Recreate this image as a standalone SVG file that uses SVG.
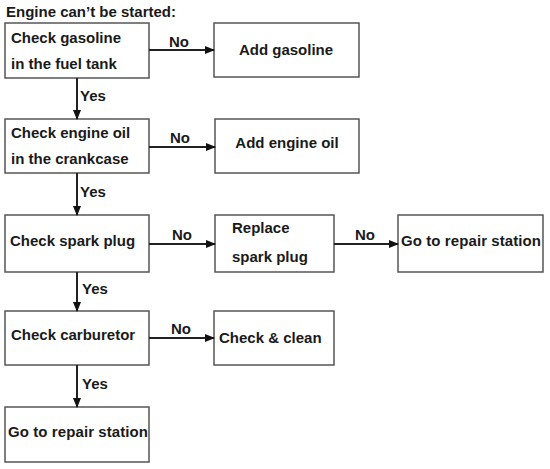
<svg xmlns="http://www.w3.org/2000/svg" width="550" height="469" viewBox="0 0 550 469">
<defs>
<marker id="ah" markerWidth="10" markerHeight="8" refX="9" refY="4" orient="auto" markerUnits="userSpaceOnUse">
<path d="M0,0 L10,4 L0,8 Z" fill="#111"/>
</marker>
<style>
text{font-family:"Liberation Sans",Arial,sans-serif;font-weight:bold;font-size:15px;fill:#1a1a1a}
rect{fill:#fff;stroke:#555;stroke-width:1.5}
.c line{stroke:#222;stroke-width:2;marker-end:url(#ah)}
</style>
</defs>
<rect x="0" y="0" width="550" height="469" style="stroke:none"/>
<text x="6" y="17">Engine can’t be started:</text>
<g id="n1"><rect x="5" y="23" width="144" height="55"/><text x="11" y="43">Check gasoline</text><text x="11" y="69">in the fuel tank</text></g>
<g id="n2"><rect x="214" y="23" width="145" height="54"/><text x="286" y="55" text-anchor="middle">Add gasoline</text></g>
<g id="n3"><rect x="5" y="119" width="144" height="54"/><text x="11" y="138">Check engine oil</text><text x="11" y="164">in the crankcase</text></g>
<g id="n4"><rect x="215" y="119" width="144" height="54"/><text x="287" y="148" text-anchor="middle">Add engine oil</text></g>
<g id="n5"><rect x="5" y="215" width="144" height="57"/><text x="10" y="246">Check spark plug</text></g>
<g id="n6"><rect x="215" y="215" width="119" height="57"/><text x="232" y="233">Replace</text><text x="232" y="262">spark plug</text></g>
<g id="n7"><rect x="398" y="215" width="145" height="57"/><text x="401" y="246" textLength="140">Go to repair station</text></g>
<g id="n8"><rect x="5" y="311" width="144" height="54"/><text x="11" y="340">Check carburetor</text></g>
<g id="n9"><rect x="214" y="311" width="120" height="54"/><text x="219" y="343">Check &amp; clean</text></g>
<g id="n10"><rect x="5" y="407" width="144" height="55"/><text x="8" y="437" textLength="140">Go to repair station</text></g>
<g class="c" id="connectors">
<line x1="149" y1="50" x2="214" y2="50"/>
<line x1="77" y1="78" x2="77" y2="119"/>
<line x1="149" y1="147" x2="215" y2="147"/>
<line x1="77" y1="173" x2="77" y2="215"/>
<line x1="149" y1="244" x2="215" y2="244"/>
<line x1="334" y1="244" x2="398" y2="244"/>
<line x1="77" y1="272" x2="77" y2="311"/>
<line x1="149" y1="338" x2="214" y2="338"/>
<line x1="77" y1="365" x2="77" y2="407"/>
<text x="169" y="47">No</text>
<text x="80" y="101">Yes</text>
<text x="170" y="143">No</text>
<text x="80" y="197">Yes</text>
<text x="172" y="240">No</text>
<text x="355" y="240">No</text>
<text x="82" y="294">Yes</text>
<text x="171" y="334">No</text>
<text x="82" y="389">Yes</text>
</g>
</svg>
